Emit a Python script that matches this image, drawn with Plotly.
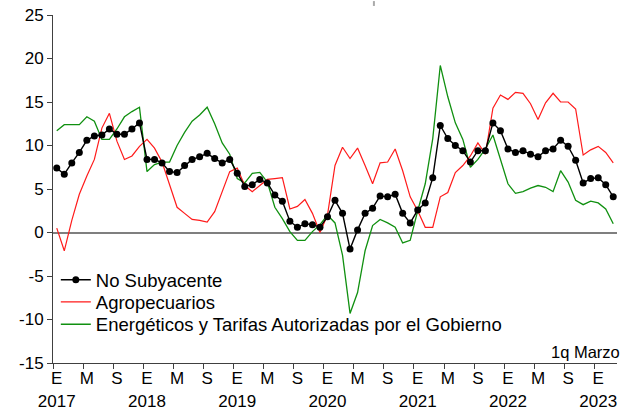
# Inflacion no subyacente y componentes, variacion anual en %
import plotly.graph_objects as go

meses = list(range(75))  # ene 2017 ... 1q mar 2023

no_subyacente = [7.4, 6.7, 8.0, 9.2, 10.6, 11.1, 11.2, 11.9, 11.3, 11.3, 11.9, 12.6,
                 8.4, 8.4, 8.0, 7.0, 6.9, 7.7, 8.4, 8.7, 9.1, 8.5, 8.0, 8.4,
                 6.8, 5.3, 5.5, 6.1, 5.7, 4.3, 3.6, 1.3, 0.6, 1.0, 0.9, 0.6,
                 1.8, 3.7, 2.2, -1.9, 0.3, 2.2, 2.8, 4.2, 4.1, 4.4, 2.2, 1.1,
                 2.6, 3.4, 6.3, 12.3, 10.8, 10.0, 9.4, 8.1, 9.4, 9.4, 12.6, 11.7,
                 9.6, 9.2, 9.4, 9.0, 8.7, 9.4, 9.6, 10.6, 9.9, 8.3, 5.7, 6.2,
                 6.3, 5.5, 4.1]

agropecuarios = [0.5, -2.1, 1.4, 4.4, 6.5, 8.4, 12.0, 13.7, 10.5, 8.4, 8.8, 9.9,
                 10.7, 9.7, 8.1, 5.5, 2.9, 2.2, 1.5, 1.4, 1.2, 2.4, 4.7, 7.0,
                 7.4, 5.4, 4.7, 5.4, 6.1, 6.2, 6.3, 2.7, 3.0, 3.8, 2.2, 0.0,
                 2.0, 7.7, 9.8, 8.5, 9.7, 7.7, 5.6, 8.0, 8.1, 9.6, 7.1, 4.1,
                 2.5, 0.6, 0.6, 4.1, 4.6, 6.9, 7.7, 8.8, 10.3, 9.0, 14.3, 15.8,
                 15.3, 16.1, 16.0, 14.8, 13.0, 14.9, 16.0, 15.0, 15.0, 14.2, 8.9, 9.5,
                 9.9, 9.2, 8.0]

energeticos = [11.7, 12.4, 12.4, 12.4, 13.3, 12.8, 10.7, 10.7, 11.9, 13.3, 13.9, 14.4,
               7.0, 7.8, 8.1, 8.1, 10.0, 11.5, 12.8, 13.5, 14.4, 12.5, 10.3, 9.0,
               6.2, 5.7, 6.8, 6.9, 5.8, 2.9, 1.6, 0.1, -0.9, -0.9, 0.1, 0.9,
               2.0, 1.1, -2.6, -9.3, -6.9, -2.1, 0.8, 1.5, 1.1, 0.6, -1.2, -0.9,
               2.5, 5.6, 10.8, 19.2, 15.6, 12.6, 10.7, 7.5, 8.4, 9.6, 11.2, 8.5,
               5.6, 4.5, 4.7, 5.1, 5.4, 5.2, 4.7, 7.1, 5.8, 3.7, 3.2, 3.6,
               3.4, 2.7, 1.0]

anios = ['2017', '2018', '2019', '2020', '2021', '2022', '2023']
letras = ['E', 'M', 'S']
y_ticks = [-15, -10, -5, 0, 5, 10, 15, 20, 25]

tick_pos = list(range(0, 73, 4))
tick_txt = []
for i, p in enumerate(tick_pos):
  l = letras[i % 3]
  if l == 'E':
    tick_txt.append('E<br>' + anios[i // 3])
  else:
    tick_txt.append(l)

fuente = 'Liberation Sans, Arial, sans-serif'
ley_font = dict(family=fuente, size=18.5, color='black')

fig = go.Figure()
fig.add_trace(go.Scatter(x=meses, y=energeticos, mode='lines',
  name='Energéticos y Tarifas Autorizadas por el Gobierno', legend='legend3',
  line=dict(color='#109010', width=1.3)))
fig.add_trace(go.Scatter(x=meses, y=agropecuarios, mode='lines',
  name='Agropecuarios', legend='legend2', line=dict(color='#ff1a1a', width=1.2)))
fig.add_trace(go.Scatter(x=meses, y=no_subyacente, mode='lines+markers',
  name='No Subyacente', legend='legend', line=dict(color='black', width=1.4),
  marker=dict(color='black', size=7)))

fig.update_layout(
  width=623, height=417,
  margin=dict(l=53, r=6, t=14, b=51),
  paper_bgcolor='white', plot_bgcolor='white',
  font=dict(family=fuente, size=17, color='black'),
  showlegend=True,
  legend=dict(x=0.005, y=0.238, xanchor='left', yanchor='middle',
              bgcolor='rgba(0,0,0,0)', font=ley_font, itemwidth=30),
  legend2=dict(x=0.005, y=0.174, xanchor='left', yanchor='middle',
               bgcolor='rgba(0,0,0,0)', font=ley_font, itemwidth=30),
  legend3=dict(x=0.005, y=0.110, xanchor='left', yanchor='middle',
               bgcolor='rgba(0,0,0,0)', font=ley_font, itemwidth=30),
)

fig.update_xaxes(
  range=[-0.5, 74.5], tickmode='array', tickvals=tick_pos, ticktext=tick_txt,
  ticks='', showgrid=False, zeroline=False,
  showline=True, linecolor='#404040', linewidth=1,
  minor=dict(tickmode='array', tickvals=[p - 0.5 for p in tick_pos],
             ticks='outside', ticklen=5, tickcolor='#404040', tickwidth=1),
)
fig.update_yaxes(
  range=[-15, 25], tickmode='array', tickvals=y_ticks,
  ticktext=[str(v) for v in y_ticks],
  ticks='outside', ticklen=5, tickcolor='#404040',
  showgrid=False, showline=True, linecolor='#404040', linewidth=1,
  zeroline=True, zerolinecolor='#7f7f7f', zerolinewidth=2,
)

fig.add_annotation(text='1q Marzo', xref='paper', yref='paper', x=1.008, y=0.0,
  xanchor='right', yanchor='bottom', showarrow=False, font=dict(size=16.5))

# pequena marca gris en el borde superior
fig.add_shape(type='line', xref='paper', yref='paper', x0=0.569, x1=0.569,
  y0=1.04, y1=1.026, line=dict(color='#aaaaaa', width=2))

fig.write_html("out.html", config={'displayModeBar': False},
               post_script="document.body.style.margin='0';")
